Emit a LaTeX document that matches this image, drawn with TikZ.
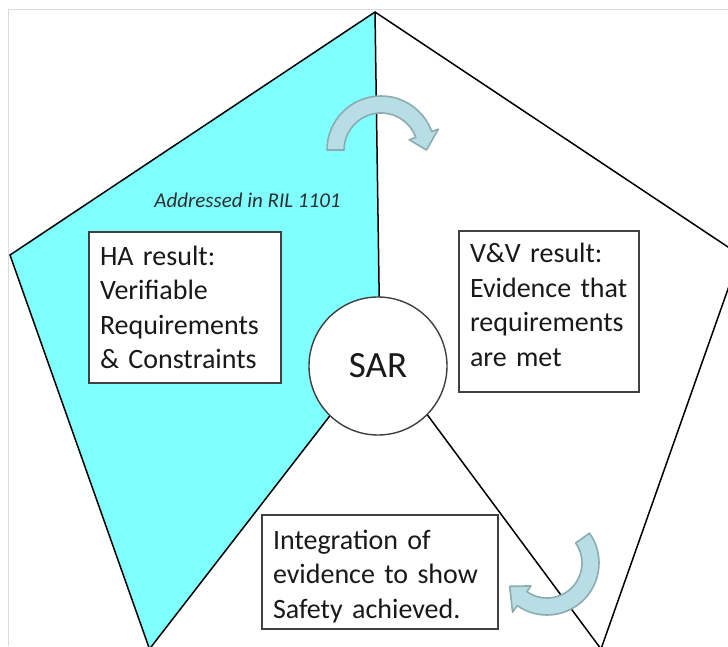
\documentclass[tikz,border=0pt]{standalone}
\usepackage{fontspec}
\setmainfont{Carlito}
\definecolor{cyanfill}{RGB}{128,255,255}
\definecolor{arrowfill}{RGB}{183,222,228}
\definecolor{arrowline}{RGB}{140,172,178}
\definecolor{boxline}{RGB}{64,64,64}
\definecolor{frameline}{RGB}{220,220,220}
\definecolor{txt}{RGB}{25,25,25}
\definecolor{addrtxt}{RGB}{45,45,45}
\begin{document}
\begin{tikzpicture}[x=1pt,y=1pt,
  edge/.style={draw=black, line width=1.5pt, line join=miter},
  box/.style={draw=boxline, line width=1.6pt, fill=white, align=left,
    inner xsep=11pt, inner ysep=0pt, text=txt,
    font=\fontsize{28}{34.5}\selectfont},
  sarstyle/.style={circle, draw=boxline, line width=1.4pt, fill=white,
    minimum size=138pt, inner sep=0pt, text=txt,
    font=\fontsize{37}{40}\selectfont},
  curvarrow/.style={fill=arrowfill, draw=arrowline, line width=1.6pt, line join=round}]
\useasboundingbox (0,0) rectangle (728,646);
\clip (0,0) rectangle (728,646);
\fill[white] (0,0) rectangle (728,646);
\draw[frameline, line width=1pt] (8,0) -- (8,636) -- (728,636);
% pentagon vertices
\coordinate (T) at (375,634);
\coordinate (L) at (10,391);
\coordinate (BL) at (149.5,-3);
\coordinate (BR) at (601,-3);
\coordinate (R) at (740,391);
\coordinate (hub) at (380,295);
% cyan sector
\fill[cyanfill] (T) -- (L) -- (BL) -- (hub) -- cycle;
% outline and spokes
\draw[edge] (T) -- (L) -- (BL) -- (BR) -- (R) -- cycle;
\draw[edge] (T) -- (hub);
\draw[edge] (BL) -- (hub) -- (BR);
% centre
\node[sarstyle] (sar) at (378,280) {SAR};
% boxes
\node[box, minimum width=192pt, minimum height=151pt, text width=170pt] (ha) at (185,338.5)
  {HA~result:\\Verifiable\\Requirements\\\&~Constraints};
\node[box, minimum width=180pt, minimum height=161pt, text width=158pt] (vv) at (549,334.5)
  {V\&V~result:\\Evidence~that\\requirements\\are~met\rule[-13pt]{0pt}{0pt}};
\node[box, minimum width=236pt, minimum height=114pt, text width=214pt] (int) at (380,74)
  {\rule{0pt}{28pt}Integration~of\\evidence~to~show\\Safety~achieved.};
% label
\node[font=\fontsize{21}{25}\selectfont\itshape, text=addrtxt, anchor=base, inner sep=0pt] (addr)
  at (247.5,438) {Addressed in RIL 1101};
% curved arrows
\begin{scope}[shift={(381pt,496pt)}]
\draw[curvarrow] (180:54pt) arc[start angle=180,end angle=20,radius=54pt]
  -- (20:61pt) -- (0:45.5pt) -- (20:30pt) -- (20:37pt)
  arc[start angle=20,end angle=180,radius=37pt] -- cycle;
\end{scope}
\begin{scope}[shift={(547pt,83pt)}]
\draw[curvarrow] (35:52pt) arc[start angle=35,end angle=-125,radius=52pt]
  -- (-125:60pt) -- (-148:44pt) -- (-125:28pt) -- (-125:35pt)
  arc[start angle=-125,end angle=35,radius=35pt] -- cycle;
\end{scope}
\end{tikzpicture}
\end{document}
